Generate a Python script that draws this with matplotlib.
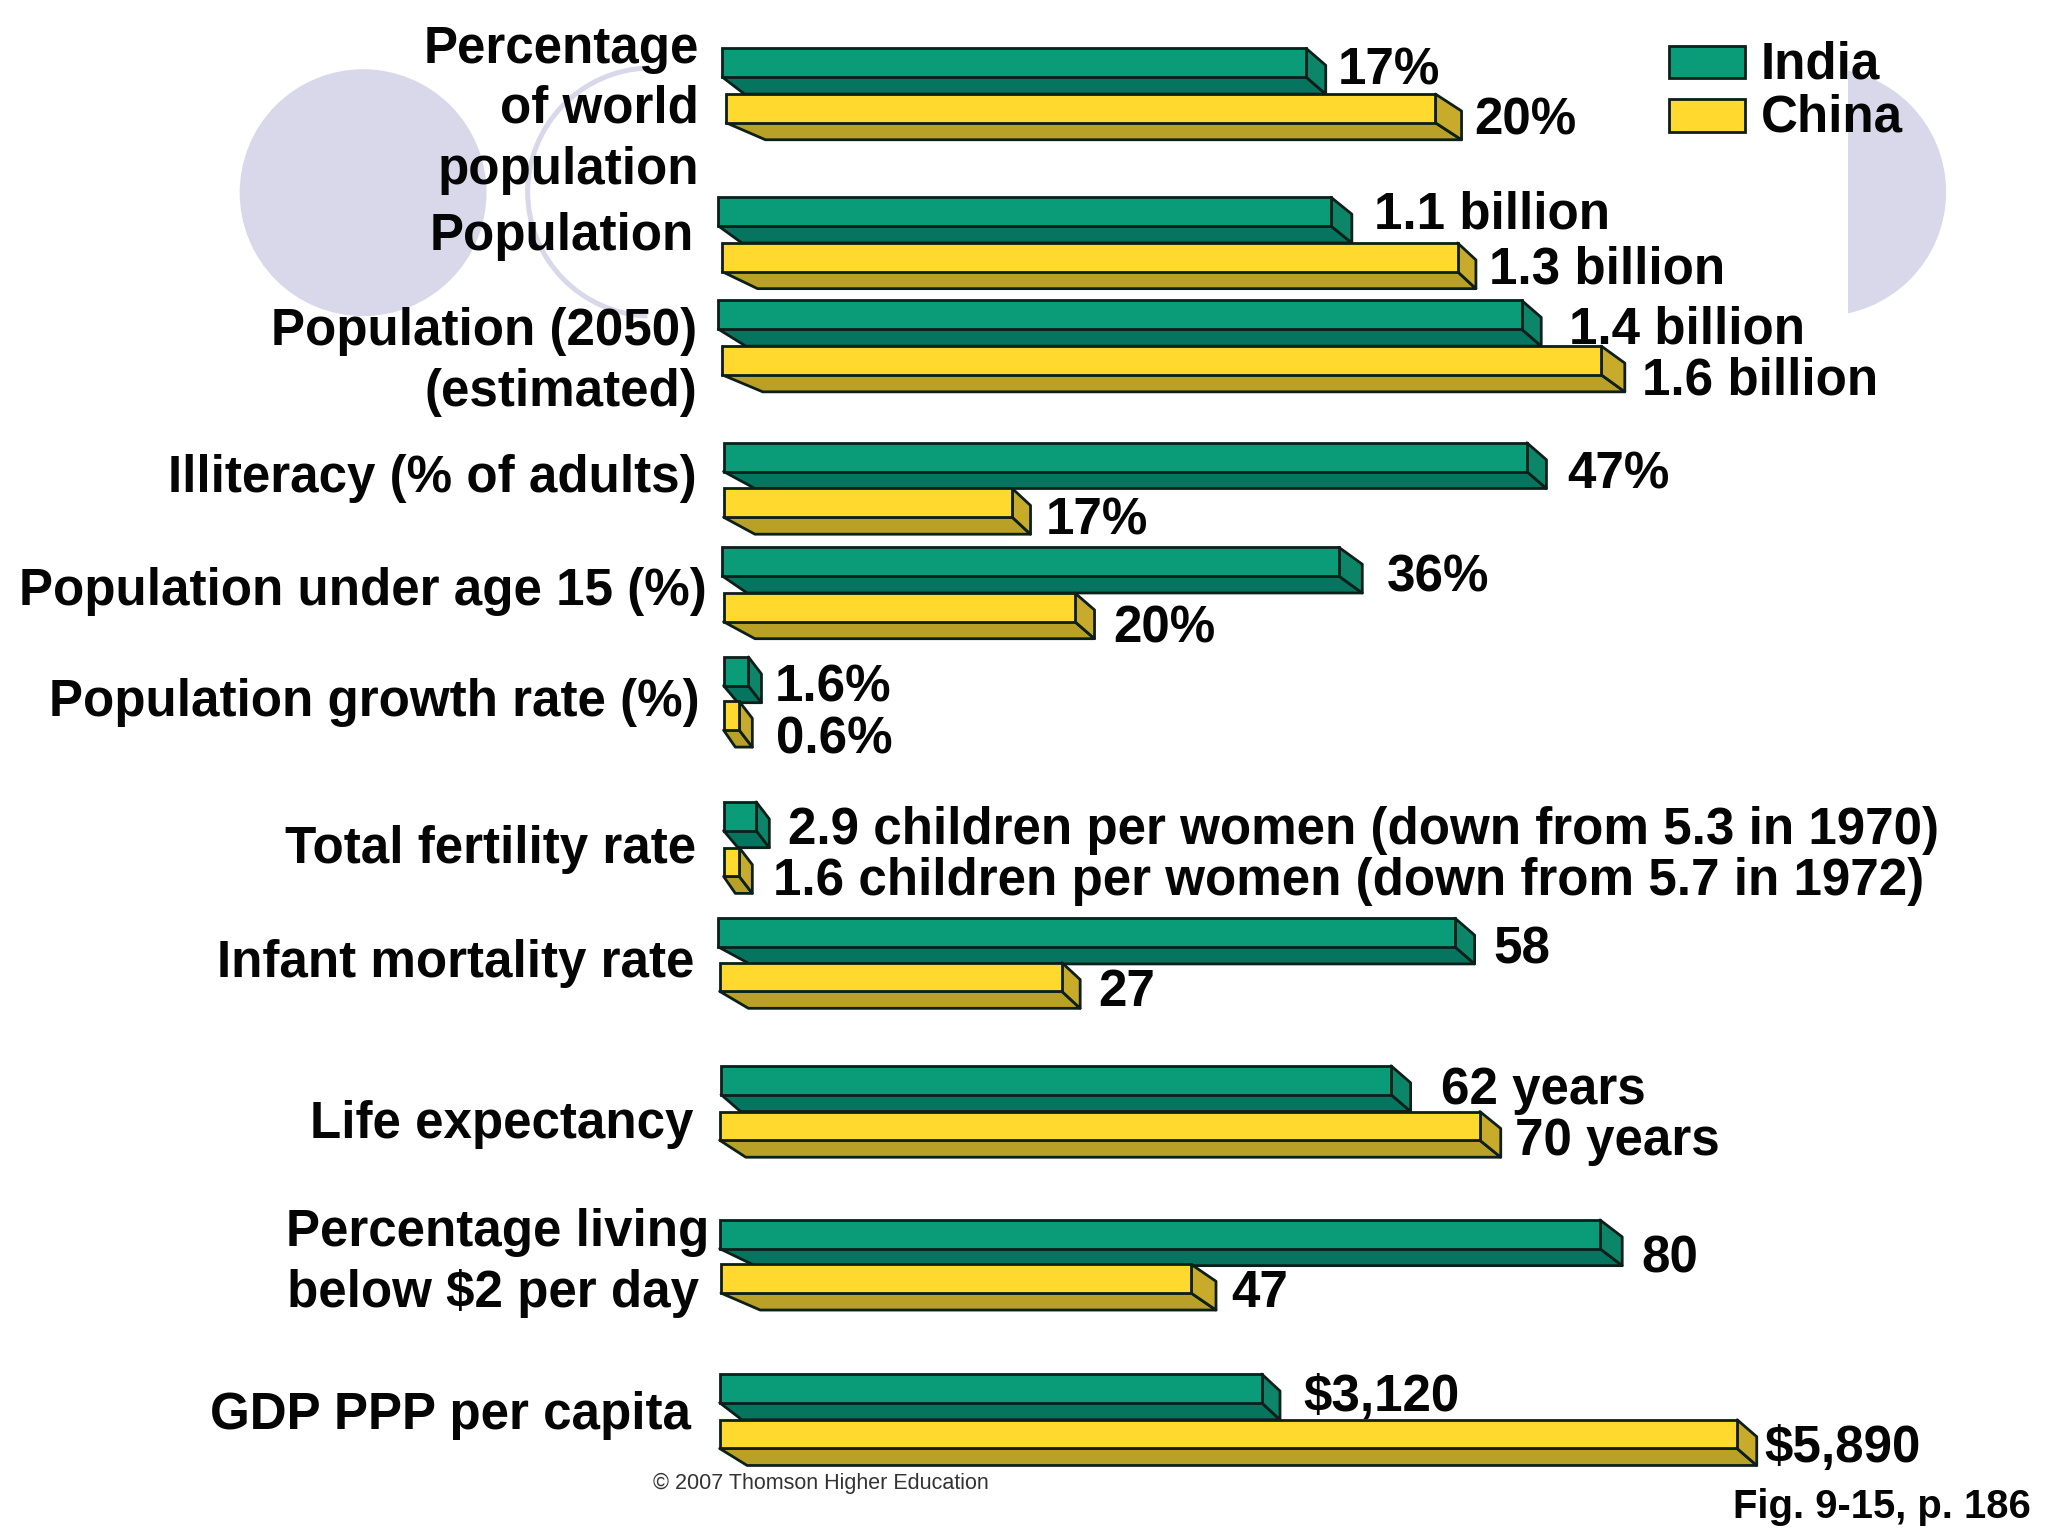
import matplotlib
matplotlib.use("Agg")
import matplotlib.pyplot as plt
from matplotlib.patches import Circle, Arc, Rectangle

plt.rcParams["font.family"] = ["Liberation Sans", "DejaVu Sans"]

# bar lengths as drawn (the figure has no common scale)
india_len = [447, 469, 615, 615, 472, 19, 25, 564, 513, 674, 415]
china_len = [543, 563, 673, 221, 269, 12, 12, 262, 582, 360, 779]

india_labels = ["17%", "1.1 billion", "1.4 billion", "47%", "36%", "1.6%",
                "2.9 children per women (down from 5.3 in 1970)", "58", "62 years", "80", "$3,120"]
china_labels = ["20%", "1.3 billion", "1.6 billion", "17%", "20%", "0.6%",
                "1.6 children per women (down from 5.7 in 1972)", "27", "70 years", "47", "$5,890"]

categories = ["Percentage", "of world", "population", "Population", "Population (2050)", "(estimated)",
              "Illiteracy (% of adults)", "Population under age 15 (%)", "Population growth rate (%)",
              "Total fertility rate", "Infant mortality rate", "Life expectancy",
              "Percentage living", "below $2 per day", "GDP PPP per capita"]

# layout, in pixels of the 1568x1176 view
india_left = [553, 550, 550, 554, 553, 554, 554, 550, 552, 551, 551]
china_left = [556, 553, 553, 554, 554, 554, 554, 551, 551, 552, 551]
india_top = [37, 151, 230, 339, 419, 503, 614, 703, 816, 934, 1052]
china_top = [72, 186, 265, 374, 454, 537, 649, 737, 851, 968, 1087]
india_dl = [17, 18, 21, 24, 19, 11, 11, 24, 15, 27, 17]
china_dl = [30, 27, 31, 24, 24, 9, 9, 22, 20, 30, 21]
india_dr = [15, 16, 15, 15, 18, 10, 10, 15, 15, 17, 14]
china_dr = [20, 14, 18, 14, 15, 10, 10, 14, 16, 19, 15]
india_lx = [1024, 1052, 1201, 1200, 1062, 593, 603, 1143, 1103, 1257, 998]
india_ly = [50.5, 160.5, 248.5, 359.5, 438.5, 522.5, 631.5, 723.5, 830.5, 959.5, 1065.5]
china_lx = [1129, 1140, 1257, 801, 852, 594, 592, 841, 1160, 943, 1351]
china_ly = [88.5, 202.5, 287.5, 394.5, 477.5, 562.5, 670.5, 755.5, 869.5, 986.5, 1104.5]
cat_right = [535, 535, 535, 531, 534, 534, 533, 541, 536, 533, 532, 531, 543, 535, 529]
cat_y = [33.5, 79.5, 126.5, 176.5, 249.5, 296.5, 362.5, 448.5, 533.5, 646.5, 733.5, 856.5, 939.5, 986.5, 1079.5]

BAR_H = 22
DEPTH_Y = 13
EDGE = "#0c1f1a"
LAV = "#d9d8ea"
FONT = 36.8

fig = plt.figure(figsize=(20.48, 15.36), dpi=100, facecolor="white")
ax = fig.add_axes([0, 0, 1, 1])
ax.set_xlim(0, 1568)
ax.set_ylim(1176, 0)
ax.axis("off")

# background decoration
ax.add_patch(Circle((278, 147.5), 94.5, fc=LAV, ec="none", zorder=1))
ax.add_patch(Arc((499, 147), 190, 190, theta1=92, theta2=268, ec=LAV, lw=3.6, zorder=1))
half = Circle((1395, 147), 95, fc=LAV, ec="none", zorder=1)
ax.add_patch(half)
half.set_clip_path(Rectangle((1415, 0), 200, 400, transform=ax.transData))


def draw_bars(lefts, tops, lengths, dl, dr, front, bottom, side, z):
    for left, top, length, dxl, dxr in zip(lefts, tops, lengths, dl, dr):
        right = left + length
        low = top + BAR_H
        ax.fill([left, left + dxl, right + dxr, right], [low, low + DEPTH_Y, low + DEPTH_Y, low],
                fc=bottom, ec=EDGE, lw=2, joinstyle="round", zorder=z)
        ax.fill([right, right + dxr, right + dxr, right], [top, top + DEPTH_Y, low + DEPTH_Y, low],
                fc=side, ec=EDGE, lw=2, joinstyle="round", zorder=z)
        ax.barh(top + BAR_H / 2, length, height=BAR_H, left=left,
                color=front, edgecolor=EDGE, lw=2, zorder=z + 0.1)


draw_bars(india_left, india_top, india_len, india_dl, india_dr, "#0a9c78", "#067560", "#0c8569", 3)
draw_bars(china_left, china_top, china_len, china_dl, china_dr, "#ffd92e", "#b9a026", "#c9ab2c", 4)

for name, x, y in zip(categories, cat_right, cat_y):
    ax.text(x, y, name, ha="right", va="center_baseline", fontsize=FONT, fontweight="bold", color="#050505", zorder=5)
for lab, x, y in zip(india_labels + china_labels, india_lx + china_lx, india_ly + china_ly):
    ax.text(x, y, lab, ha="left", va="center_baseline", fontsize=FONT, fontweight="bold", color="#050505", zorder=5)

# legend
legend_names = ["India", "China"]
legend_cols = ["#0a9c78", "#ffd92e"]
for name, col, y in zip(legend_names, legend_cols, [35, 76]):
    ax.add_patch(Rectangle((1278, y), 58, 25, fc=col, ec=EDGE, lw=2, zorder=4))
    ax.text(1348, y + 10.5, name, ha="left", va="center_baseline", fontsize=FONT, fontweight="bold", color="#050505", zorder=5)

ax.text(500, 1134, "© 2007 Thomson Higher Education", ha="left", va="center_baseline",
        fontsize=15.5, color="#333333", zorder=5)
ax.text(1555, 1150.5, "Fig. 9-15, p. 186", ha="right", va="center_baseline",
        fontsize=28.8, fontweight="bold", color="#050505", zorder=5)

fig.savefig("out.png", dpi=100)
